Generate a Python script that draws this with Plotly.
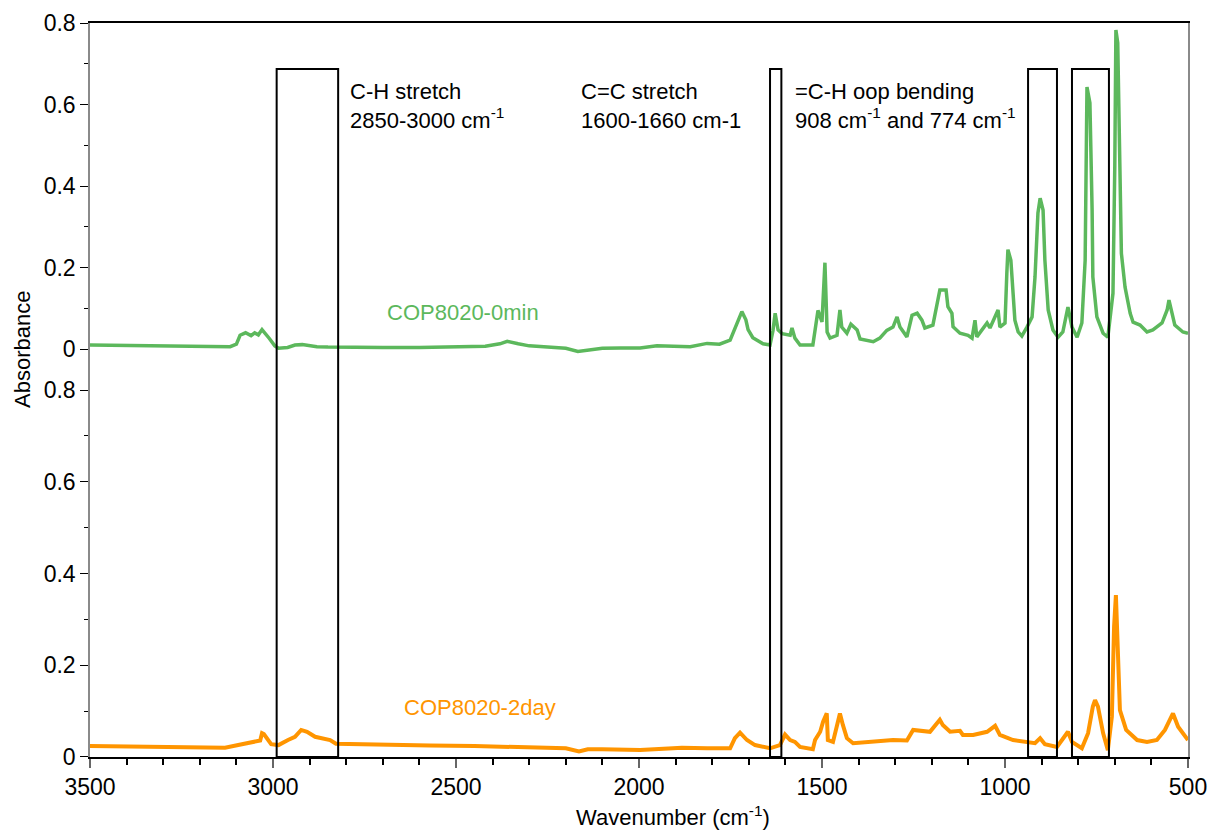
import plotly.graph_objects as go

# FTIR spectra: wavenumber (cm-1) and absorbance
wn_0min = [3500, 3400, 3300, 3200, 3117, 3100, 3090, 3075, 3060, 3050, 3040, 3030, 3020, 3010,
           2995, 2985, 2960, 2940, 2920, 2880, 2850, 2800, 2700, 2600, 2500, 2420, 2380, 2360,
           2330, 2300, 2250, 2200, 2167, 2130, 2100, 2050, 1997, 1951, 1907, 1860, 1814, 1780,
           1751, 1738, 1730, 1719, 1708, 1702, 1689, 1661, 1642, 1634, 1628, 1620, 1609, 1595,
           1587, 1582, 1574, 1560, 1525, 1519, 1511, 1500, 1492, 1486, 1478, 1459, 1451, 1446,
           1432, 1421, 1404, 1396, 1360, 1342, 1323, 1306, 1295, 1287, 1268, 1254, 1240, 1227,
           1219, 1197, 1183, 1178, 1161, 1156, 1145, 1142, 1123, 1101, 1090, 1082, 1077, 1049,
           1041, 1019, 1014, 1000, 995, 992, 984, 978, 973, 964, 954, 940, 926, 918, 910, 904,
           896, 891, 882, 869, 855, 842, 828, 817, 803, 790, 781, 776, 768, 762, 760, 749, 732,
           719, 705, 700, 697, 692, 682, 672, 658, 650, 631, 612, 596, 571, 557, 552, 544, 536,
           514, 500]
abs_0min = [0.010, 0.009, 0.007, 0.006, 0.006, 0.012, 0.034, 0.040, 0.033, 0.040, 0.035, 0.048,
            0.038, 0.026, 0.008, 0.002, 0.004, 0.010, 0.011, 0.006, 0.005, 0.004, 0.004, 0.004,
            0.005, 0.007, 0.013, 0.019, 0.013, 0.008, 0.005, 0.002, -0.006, -0.001, 0.002, 0.003,
            0.003, 0.008, 0.007, 0.006, 0.014, 0.012, 0.022, 0.050, 0.072, 0.092, 0.072, 0.048,
            0.028, 0.013, 0.010, 0.045, 0.088, 0.047, 0.038, 0.036, 0.034, 0.052, 0.027, 0.010,
            0.010, 0.046, 0.095, 0.067, 0.212, 0.042, 0.027, 0.034, 0.096, 0.054, 0.039, 0.061,
            0.047, 0.025, 0.018, 0.027, 0.046, 0.054, 0.079, 0.054, 0.030, 0.083, 0.088, 0.071,
            0.052, 0.059, 0.120, 0.145, 0.145, 0.104, 0.088, 0.055, 0.039, 0.034, 0.027, 0.071,
            0.030, 0.064, 0.052, 0.096, 0.054, 0.064, 0.186, 0.244, 0.218, 0.120, 0.071, 0.042,
            0.032, 0.054, 0.079, 0.177, 0.334, 0.370, 0.341, 0.218, 0.096, 0.047, 0.029, 0.042,
            0.103, 0.054, 0.029, 0.064, 0.218, 0.643, 0.604, 0.341, 0.177, 0.079, 0.039, 0.029,
            0.137, 0.450, 0.783, 0.751, 0.235, 0.152, 0.088, 0.066, 0.059, 0.042, 0.047, 0.064,
            0.096, 0.120, 0.088, 0.059, 0.042, 0.039]

wn_2day = [3500, 3336, 3199, 3131, 3095, 3049, 3035, 3030, 3025, 3005, 2985, 2959, 2940, 2923,
           2907, 2885, 2844, 2828, 2781, 2700, 2571, 2450, 2331, 2200, 2164, 2140, 2101, 1997,
           1907, 1883, 1814, 1757, 1751, 1738, 1724, 1705, 1683, 1642, 1615, 1601, 1587, 1574,
           1560, 1525, 1519, 1505, 1497, 1487, 1484, 1470, 1459, 1451, 1443, 1432, 1415, 1360,
           1306, 1268, 1251, 1205, 1183, 1178, 1170, 1150, 1123, 1115, 1087, 1049, 1027, 1014,
           978, 940, 918, 904, 891, 858, 828, 817, 790, 773, 760, 754, 746, 732, 719, 708, 702,
           697, 692, 686, 669, 639, 612, 585, 563, 541, 527, 508, 500]
abs_2day = [0.024, 0.022, 0.020, 0.020, 0.026, 0.033, 0.036, 0.052, 0.050, 0.028, 0.026, 0.037,
            0.044, 0.059, 0.055, 0.044, 0.037, 0.029, 0.028, 0.027, 0.025, 0.024, 0.022, 0.019,
            0.012, 0.017, 0.017, 0.015, 0.019, 0.020, 0.019, 0.019, 0.019, 0.041, 0.053, 0.037,
            0.026, 0.019, 0.026, 0.049, 0.037, 0.033, 0.022, 0.017, 0.037, 0.055, 0.077, 0.095,
            0.037, 0.033, 0.073, 0.095, 0.070, 0.041, 0.030, 0.033, 0.037, 0.036, 0.059, 0.055,
            0.077, 0.081, 0.070, 0.055, 0.057, 0.048, 0.048, 0.055, 0.068, 0.048, 0.037, 0.033,
            0.030, 0.041, 0.028, 0.022, 0.055, 0.033, 0.019, 0.052, 0.110, 0.124, 0.110, 0.052,
            0.015, 0.088, 0.284, 0.353, 0.211, 0.102, 0.059, 0.037, 0.033, 0.037, 0.059, 0.095,
            0.066, 0.044, 0.037]

# Highlighted band regions (wavenumber bounds)
band_regions = [(2990, 2822), (1642, 1611), (937, 858), (817, 716)]

GREEN = "#5cb85c"
ORANGE = "#ff9500"
FONT = "Liberation Sans, Arial, Helvetica, sans-serif"

fig = go.Figure()
fig.add_trace(go.Scatter(x=wn_0min, y=abs_0min, mode="lines", xaxis="x", yaxis="y",
                         line=dict(color=GREEN, width=3.5), showlegend=False))
fig.add_trace(go.Scatter(x=wn_2day, y=abs_2day, mode="lines", xaxis="x2", yaxis="y2",
                         line=dict(color=ORANGE, width=4), showlegend=False))

split = 0.508
tick_font = dict(family=FONT, size=23, color="black")

ytick_vals = [0, 0.2, 0.4, 0.6, 0.8]
ytick_text = ["0", "0.2", "0.4", "0.6", "0.8"]
x_range = [3500, 500]
x_major = [3500, 3000, 2500, 2000, 1500, 1000, 500]
top_range = [-0.0859, 0.8]
bottom_range = [0, 0.813]


def y_axis(domain, rng, anchor):
    return dict(domain=domain, anchor=anchor, range=rng,
                tickvals=ytick_vals, ticktext=ytick_text,
                ticks="outside", ticklen=8, tickwidth=1.2, tickcolor="black",
                minor=dict(dtick=0.1, tick0=0, ticks="outside", ticklen=4, tickcolor="black"),
                showgrid=False, zeroline=False, showline=True, linecolor="#8a8a8a",
                linewidth=1.5, mirror=True, tickfont=tick_font, automargin=False)


def y_inner(over, rng, anchor):
    # inward half of the crossing tick marks
    return dict(overlaying=over, anchor=anchor, side="left", range=rng,
                tickvals=ytick_vals, ticks="inside", ticklen=7, tickwidth=1.2,
                tickcolor="black", showticklabels=False,
                minor=dict(dtick=0.1, tick0=0, ticks="inside", ticklen=3, tickcolor="black"),
                showgrid=False, zeroline=False, showline=False, automargin=False)


fig.update_layout(
    width=1209, height=831,
    margin=dict(l=90, r=21, t=23, b=74),
    paper_bgcolor="white", plot_bgcolor="white",
    font=dict(family=FONT, size=22, color="black"),
    xaxis=dict(domain=[0, 1], anchor="y", range=x_range, side="top",
               showticklabels=False, ticks="", showgrid=False, zeroline=False,
               showline=True, linecolor="black", linewidth=1.5, matches="x2",
               automargin=False),
    yaxis=y_axis([split, 1], top_range, "x"),
    xaxis2=dict(domain=[0, 1], anchor="y2", range=x_range, tickvals=x_major,
                ticks="outside", ticklen=9, tickwidth=1.5, tickcolor="#666666",
                minor=dict(dtick=100, tick0=500, ticks="outside", ticklen=6, tickcolor="black"),
                showgrid=False, zeroline=False, showline=True, linecolor="black",
                linewidth=1.5, tickfont=tick_font, automargin=False),
    yaxis2=y_axis([0, split], bottom_range, "x2"),
    yaxis3=y_inner("y", top_range, "x"),
    yaxis4=y_inner("y2", bottom_range, "x2"),
    xaxis3=dict(overlaying="x2", anchor="y2", side="bottom", range=x_range,
                tickvals=x_major, ticks="inside", ticklen=6, tickwidth=1.5,
                tickcolor="#666666", showticklabels=False, showgrid=False,
                zeroline=False, showline=False, automargin=False),
)

# Band boxes spanning both panels
for x0, x1 in band_regions:
    fig.add_shape(type="rect", xref="x2", yref="paper", x0=x0, x1=x1, y0=0, y1=0.9373,
                  line=dict(color="black", width=2), fillcolor="rgba(0,0,0,0)", layer="above")

ann = dict(showarrow=False, xref="paper", yref="paper", xanchor="left", yanchor="top",
           align="left", font=dict(family=FONT, size=22, color="black"))
fig.add_annotation(x=0.2350, y=0.927, text="C-H stretch<br>2850-3000 cm<sup>-1</sup>", **ann)
fig.add_annotation(x=0.4453, y=0.927, text="C=C stretch<br>1600-1660 cm-1", **ann)
fig.add_annotation(x=0.6403, y=0.927,
                   text="=C-H oop bending<br>908 cm<sup>-1</sup> and 774 cm<sup>-1</sup>", **ann)

fig.add_annotation(x=0.2690, y=0.605, xref="paper", yref="paper", xanchor="left",
                   yanchor="middle", showarrow=False, text="COP8020-0min",
                   font=dict(family=FONT, size=22, color=GREEN))
fig.add_annotation(x=0.2845, y=0.068, xref="paper", yref="paper", xanchor="left",
                   yanchor="middle", showarrow=False, text="COP8020-2day",
                   font=dict(family=FONT, size=22, color=ORANGE))

# Axis titles
fig.add_annotation(x=-0.0610, y=0.5545, xref="paper", yref="paper", xanchor="center",
                   yanchor="middle", textangle=-90, showarrow=False, text="Absorbance",
                   font=dict(family=FONT, size=22))
fig.add_annotation(x=0.531, y=-0.081, xref="paper", yref="paper", xanchor="center",
                   yanchor="middle", showarrow=False, text="Wavenumber (cm<sup>-1</sup>)",
                   font=dict(family=FONT, size=22))

fig.write_html("out.html")
